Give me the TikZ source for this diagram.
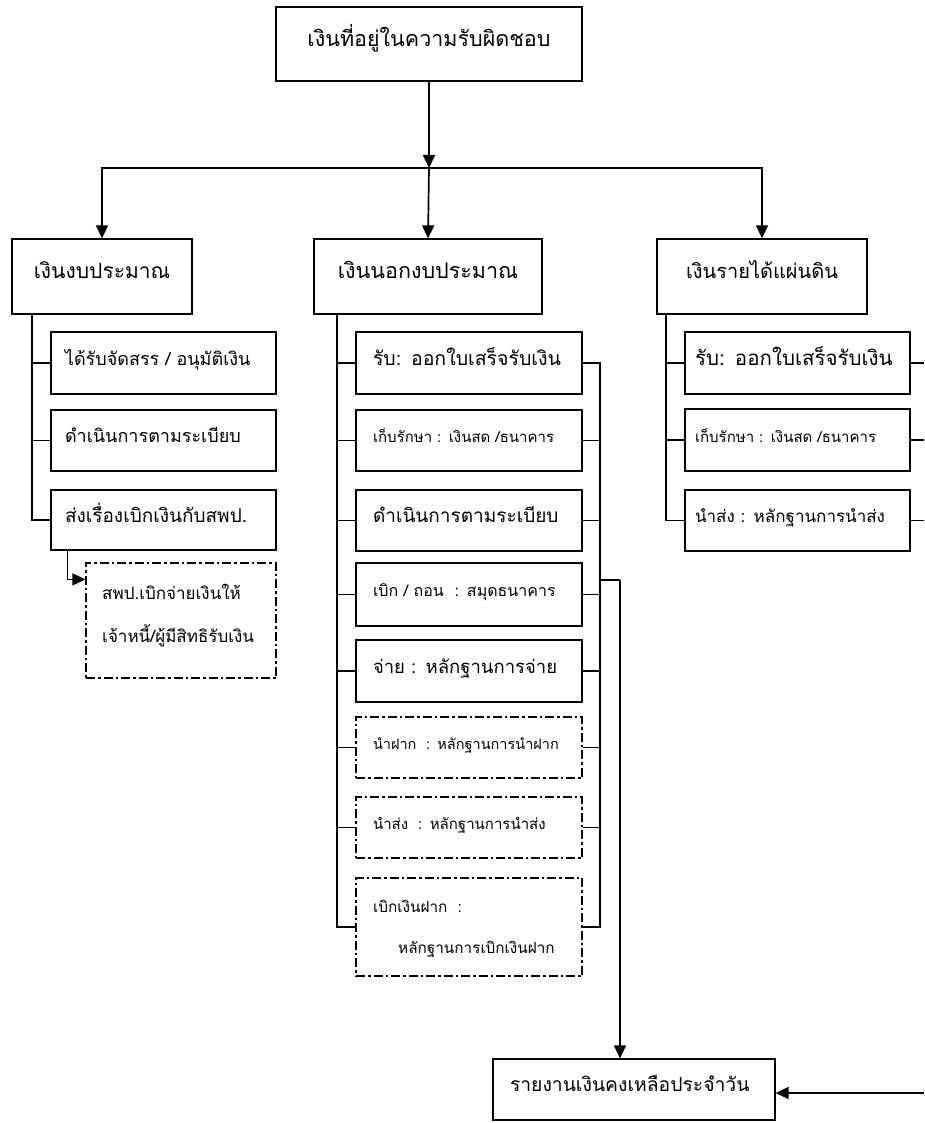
\documentclass[tikz,border=0pt]{standalone}
\usepackage{fontspec}
\newfontfamily\thai[Script=Thai]{Loma}
\usetikzlibrary{arrows.meta}
\begin{document}
\begin{tikzpicture}[x=1pt,y=-1pt,
 box/.style={draw, line width=1.3pt, inner ysep=0pt, align=left, text height=0.75em, text depth=0.3em},
 cbox/.style={draw, line width=1.3pt, inner sep=0pt, align=center, text height=0.75em, text depth=0.3em},
 sbox/.style n args={3}{box, text width=#1, inner xsep=#2, minimum height=#3},
 dashdot/.style={dash pattern=on 9pt off 3pt on 2.5pt off 3pt, line width=1.2pt},
 arr/.style={line width=1.7pt, -{Triangle[length=13pt,width=12pt]}},
 ln/.style={line width=1.3pt},
 txt/.style={inner sep=0pt, anchor=base west},
 f/.style={font=\thai\fontsize{#1}{#1}\selectfont},
]
\useasboundingbox (0,0) rectangle (924,1123);
\fill[white] (0,0) rectangle (924,1123);

% top
\node[cbox, f=21.5, minimum width=306, minimum height=74] (T) at (429,44) {เงินที่อยู่ในความรับผิดชอบ};
% level 2
\node[cbox, f=21, minimum width=180, minimum height=75] (L) at (102,276.5) {เงินงบประมาณ};
\node[cbox, f=21.5, minimum width=228, minimum height=75] (M) at (428,276.5) {เงินนอกงบประมาณ};
\node[cbox, f=20, minimum width=210, minimum height=75] (R) at (762,276.5) {เงินรายได้แผ่นดิน};

\coordinate (J) at (429,168);
\draw[arr] (T.south) -- (J);
\draw[arr] (J) -| (L.north);
\draw[arr] (J) -- (M.north);
\draw[arr] (J) -| (R.north);

% left column
\node[sbox={197}{14}{62}, f=18] (L1) at (163.5,363) {\mbox{ได้รับจัดสรร / อนุมัติเงิน}};
\node[sbox={197}{14}{61}, f=18] (L2) at (163.5,440.5) {\mbox{ดำเนินการตามระเบียบ}};
\node[sbox={197}{14}{60}, f=19] (L3) at (163.5,520) {\mbox{ส่งเรื่องเบิกเงินกับสพป.}};
\node[draw, dashdot, minimum width=190, minimum height=115, inner sep=0pt] (LD) at (181,620.5) {};
\node[txt, f=17] (LDa) at (102,599) {สพป.เบิกจ่ายเงินให้};
\node[txt, f=17] (LDb) at (102,642) {เจ้าหนี้/ผู้มีสิทธิรับเงิน};

\coordinate (LS) at (32,314);
\draw[ln] (LS) |- (L3.west);
\draw[ln] (LS |- L1.west) -- (L1.west);
\draw[ln] (LS |- L2.west) -- (L2.west);
\draw[arr, line width=1.3pt] ([xshift=17pt]L3.south west) |- ([yshift=-17pt]LD.north west);

% middle column
\node[sbox={192}{17}{62}, f=19.5] (M1) at (469,363) {\mbox{รับ: ออกใบเสร็จรับเงิน}};
\node[sbox={192}{17}{61}, f=15] (M2) at (469,440.5) {\mbox{เก็บรักษา : เงินสด /ธนาคาร}};
\node[sbox={192}{17}{61}, f=19] (M3) at (469,520.5) {\mbox{ดำเนินการตามระเบียบ}};
\node[sbox={192}{17}{63}, f=16] (M4) at (469,594.5) {\mbox{เบิก / ถอน~ : สมุดธนาคาร}};
\node[sbox={192}{17}{62}, f=18.5] (M5) at (469,671) {\mbox{จ่าย : หลักฐานการจ่าย}};
\node[sbox={192}{17}{61}, f=14.5, dashdot] (M6) at (469,747.5) {\mbox{นำฝาก~ : หลักฐานการนำฝาก}};
\node[sbox={192}{17}{61}, f=15, dashdot] (M7) at (469,827.5) {\mbox{นำส่ง~ : หลักฐานการนำส่ง}};
\node[draw, dashdot, minimum width=226, minimum height=98, inner sep=0pt] (M8) at (469,927) {};
\node[txt, f=15.3] (M8a) at (373,912) {เบิกเงินฝาก~ :};
\node[txt, f=15.3] (M8b) at (398,953) {หลักฐานการเบิกเงินฝาก};

\coordinate (MS) at (337,314);
\draw[ln] (MS) |- (M8.west);
\foreach \n in {M1,M2,M3,M4,M5,M6,M7} \draw[ln] (MS |- \n.west) -- (\n.west);

\coordinate (MR) at (600,363);
\draw[ln] (M1.east) -| (MR) |- (M8.east);
\foreach \n in {M2,M3,M4,M5,M6,M7} \draw[ln] (\n.east) -- (MR |- \n.east);

% bottom
\node[sbox={248}{17}{61}, f=19.3] (B) at (634,1089.5) {\mbox{รายงานเงินคงเหลือประจำวัน}};
\coordinate (BR) at (600,580);
\coordinate (BO) at (620,580);
\draw[ln] (BR) -- (BO);
\draw[arr] (BO) -- (BO |- B.north);
\coordinate (RIN) at (924,1093);
\draw[arr] (RIN) -- (RIN -| B.east);

% right column
\node[sbox={205}{10}{62}, f=20.5] (R1) at (797.5,363) {\mbox{รับ: ออกใบเสร็จรับเงิน}};
\node[sbox={205}{10}{62}, f=15] (R2) at (797.5,440) {\mbox{เก็บรักษา : เงินสด /ธนาคาร}};
\node[sbox={205}{10}{61}, f=17] (R3) at (797.5,520.5) {\mbox{นำส่ง : หลักฐานการนำส่ง}};
\coordinate (RS) at (666,314);
\draw[ln] (RS) |- (R3.west);
\draw[ln] (RS |- R1.west) -- (R1.west);
\draw[ln] (RS |- R2.west) -- (R2.west);
\foreach \n in {R1,R2,R3} {\coordinate (\n o) at (924,0); \draw[ln] (\n.east) -- (\n o |- \n.east);}
\end{tikzpicture}
\end{document}
